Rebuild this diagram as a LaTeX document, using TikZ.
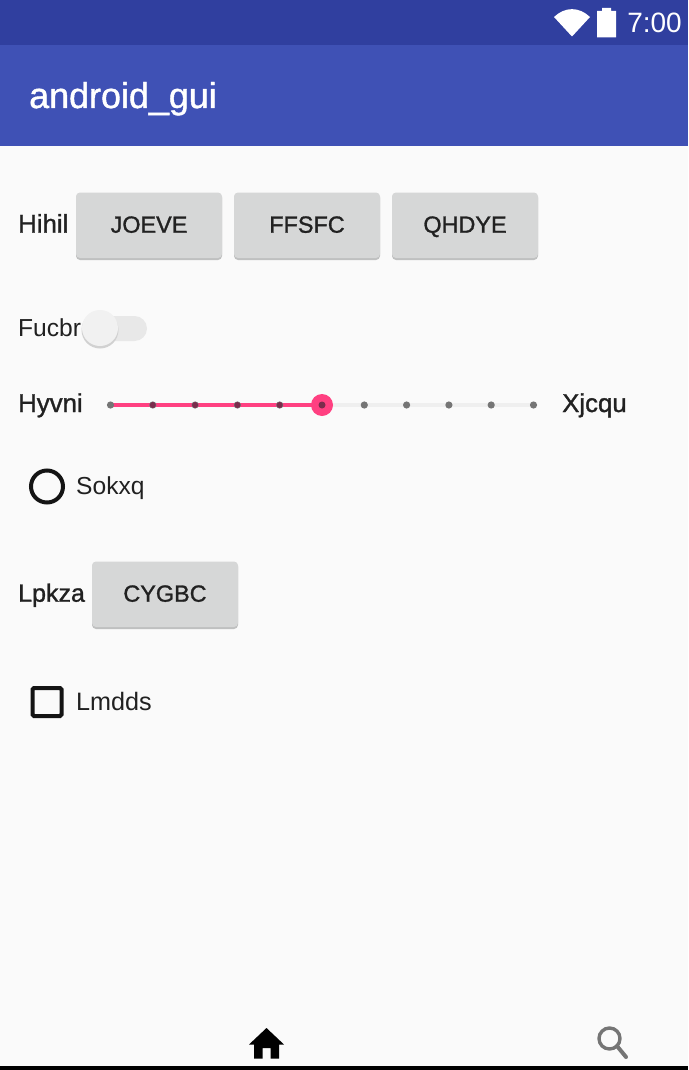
\documentclass[tikz,border=0pt]{standalone}
\usepackage{fontspec}
\setmainfont{Liberation Sans}
\newfontfamily\medfont[FakeBold=1.2]{Liberation Sans}
\definecolor{bgc}{HTML}{FAFAFA}
\definecolor{statusc}{HTML}{303F9F}
\definecolor{barc}{HTML}{3F51B5}
\definecolor{btnc}{HTML}{D6D7D7}
\definecolor{btnsh}{HTML}{BFC0C0}
\definecolor{txtc}{HTML}{212121}
\definecolor{pinkc}{HTML}{FF4081}
\definecolor{dotc}{HTML}{757575}
\definecolor{pdotc}{HTML}{7A2C4C}
\definecolor{trackc}{HTML}{EFEFEF}
\definecolor{swtrack}{HTML}{E8E8E8}
\definecolor{swthumb}{HTML}{F1F1F1}
\tikzset{
  x=1pt,y=-1pt,
  lbl/.style={anchor=base west,inner sep=0pt,font=\fontsize{24.6}{28}\selectfont,text=txtc},
  lblw/.style={lbl,font=\fontsize{25.2}{28}\selectfont},
  mlbl/.style={lbl,font=\medfont\fontsize{25.8}{28}\selectfont},
  mlbls/.style={lbl,font=\medfont\fontsize{25}{28}\selectfont},
  btn/.style={anchor=base,inner sep=0pt,font=\medfont\fontsize{23.4}{28}\selectfont,text=txtc},
  dotg/.style={fill=dotc,draw=none},
  dotp/.style={fill=pdotc,draw=none},
}
\newcommand{\appbutton}[2]{%
  \fill[btnsh,rounded corners=4pt] (#1,#2+1) rectangle (#1+146,#2+67.5);
  \fill[btnc,rounded corners=4pt] (#1,#2) rectangle (#1+146,#2+65.5);
}
\begin{document}
\begin{tikzpicture}
\useasboundingbox (0,0) rectangle (688,1070);
\fill[bgc] (0,0) rectangle (688,1070);
\fill[statusc] (0,0) rectangle (688,45);
\fill[barc] (0,45) rectangle (688,146);
% status icons
\fill[white] (572,36.5) -- (554,17) .. controls (565,6.5) and (579,6.5) .. (590,17) -- cycle;
\fill[white] (597,11) -- (602,11) -- (602,8) -- (611,8) -- (611,11) -- (616,11) -- (616,37.5) -- (597,37.5) -- cycle;
\node[anchor=base east,inner sep=0pt,text=white,font=\fontsize{28}{32}\selectfont] (clock) at (682,33) {7:00};
\node[anchor=base west,inner sep=0pt,text=white,font=\medfont\fontsize{35.9}{38}\selectfont] (title) at (29,108) {android\_gui};
% row 1
\node[mlbl] (hihil) at (18,232.7) {Hihil};
\appbutton{76}{192.5}
\appbutton{234}{192.5}
\appbutton{392}{192.5}
\node[btn] (joeve) at (149,232.7) {JOEVE};
\node[btn] (ffsfc) at (307,232.7) {FFSFC};
\node[btn] (qhdye) at (465,232.7) {QHDYE};
% row 2
\node[lbl] (fucbr) at (18,336) {Fucbr};
\fill[swtrack,rounded corners=12.5pt] (84,316) rectangle (147,341);
\fill[black!18] (100,330) circle (18.5);
\fill[swthumb] (100,328) circle (18);
% row 3
\node[mlbl] (hyvni) at (18,412) {Hyvni};
\node[mlbl] (xjcqu) at (562,412) {Xjcqu};
\fill[trackc] (322,403) rectangle (533,407);
\fill[pinkc] (110,403) rectangle (322,407);
\foreach \px in {110.5,152.8,195.1,237.4,279.7} \fill[dotg] (\px,405) circle (3.6);
\foreach \px in {152.8,195.1,237.4,279.7} \fill[dotp] (\px,405) circle (3);
\foreach \px in {364.3,406.6,448.9,491.2,533.5} \fill[dotg] (\px,405) circle (3.6);
\fill[pinkc] (322,405) circle (11);
\fill[pdotc] (322,405) circle (3.5);
% radio
\draw[black!92,line width=4pt] (47,486.5) circle (16);
\node[lbl] (sokxq) at (76,494) {Sokxq};
% row 5
\node[mlbls] (lpkza) at (18,601.7) {Lpkza};
\appbutton{92}{561.5}
\node[btn] (cygbc) at (165,601.7) {CYGBC};
% checkbox
\draw[black!92,line width=4pt,rounded corners=1.5pt] (32.5,688) rectangle (61.5,716);
\node[lblw] (lmdds) at (76,710) {Lmdds};
% bottom bar
\fill[black] (0,1065.5) rectangle (688,1070);
\fill[black] (266.5,1028) -- (284,1044.5) -- (279,1044.5) -- (279,1058.5) -- (270.5,1058.5) -- (270.5,1048) -- (262.5,1048) -- (262.5,1058.5) -- (254,1058.5) -- (254,1044.5) -- (249,1044.5) -- cycle;
\draw[dotc,line width=3.4pt] (609.5,1038.5) circle (10.5);
\draw[dotc,line width=4pt,line cap=round] (617,1046) -- (626,1057);
\end{tikzpicture}
\end{document}
